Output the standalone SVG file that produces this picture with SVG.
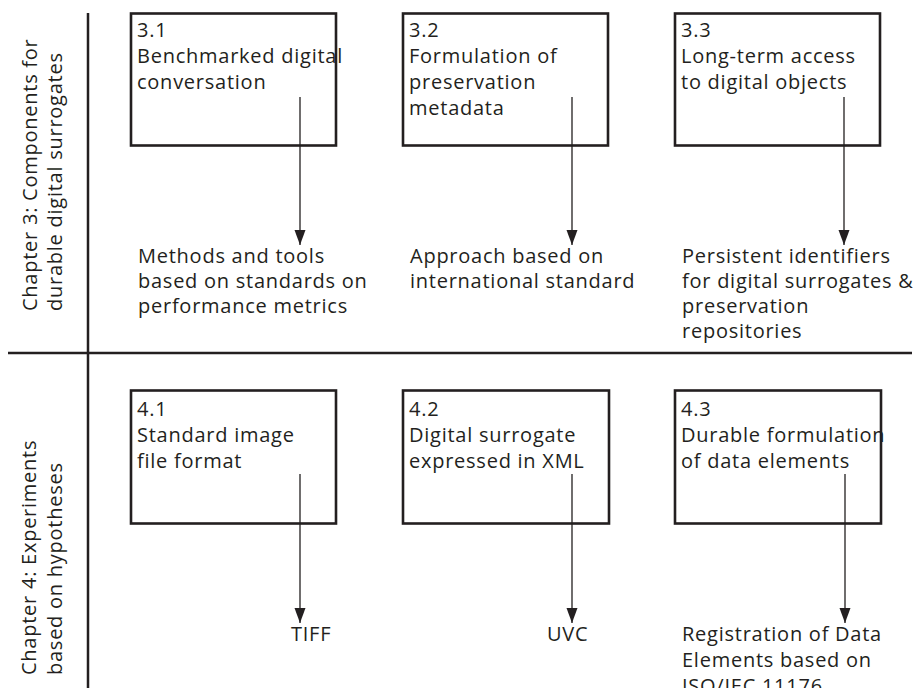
<svg xmlns="http://www.w3.org/2000/svg" width="920" height="688" viewBox="0 0 920 688">
  <style>
    .bg { fill: #ffffff; }
    .rule { stroke: #231f20; stroke-width: 2.5; fill: none; }
    .box { fill: #ffffff; stroke: #231f20; stroke-width: 2.6; }
    .arrow { stroke: #231f20; stroke-width: 1.3; fill: none; marker-end: url(#head); }
    text { font-family: "Open Sans", "Noto Sans", sans-serif; font-size: 20px; fill: #231f20; letter-spacing: 0.75px; }
  </style>
  <defs>
    <marker id="head" markerUnits="userSpaceOnUse" markerWidth="16" markerHeight="12" refX="15" refY="5.5" orient="auto">
      <path d="M0,0 L15,5.5 L0,11 z" fill="#231f20"/>
    </marker>
  </defs>

  <rect class="bg" x="0" y="0" width="920" height="688"/>

  <!-- grid rules -->
  <g id="rules">
    <line class="rule" x1="88" y1="13" x2="88" y2="688"/>
    <line class="rule" x1="8" y1="353" x2="912" y2="353"/>
  </g>

  <!-- row headings -->
  <g id="heading-ch3">
    <text transform="translate(37,311) rotate(-90)">Chapter 3: Components for</text>
    <text transform="translate(62,311) rotate(-90)">durable digital surrogates</text>
  </g>
  <g id="heading-ch4">
    <text transform="translate(36,675) rotate(-90)">Chapter 4: Experiments</text>
    <text transform="translate(62,675) rotate(-90)">based on hypotheses</text>
  </g>

  <!-- chapter 3 components -->
  <g id="node-3-1">
    <rect class="box" x="131" y="13.5" width="205" height="132"/>
    <text x="137" y="37">3.1</text>
    <text x="137" y="63">Benchmarked digital</text>
    <text x="137" y="89">conversation</text>
  </g>
  <g id="node-3-2">
    <rect class="box" x="403" y="13.5" width="205" height="132"/>
    <text x="409" y="37">3.2</text>
    <text x="409" y="63">Formulation of</text>
    <text x="409" y="89">preservation</text>
    <text x="409" y="115">metadata</text>
  </g>
  <g id="node-3-3">
    <rect class="box" x="675" y="13.5" width="205" height="132"/>
    <text x="681" y="37">3.3</text>
    <text x="681" y="63">Long-term access</text>
    <text x="681" y="89">to digital objects</text>
  </g>

  <!-- chapter 3 outcomes -->
  <g id="out-3-1">
    <text x="138" y="263">Methods and tools</text>
    <text x="138" y="288">based on standards on</text>
    <text x="138" y="313">performance metrics</text>
  </g>
  <g id="out-3-2">
    <text x="410" y="263">Approach based on</text>
    <text x="410" y="288">international standard</text>
  </g>
  <g id="out-3-3">
    <text x="682" y="263">Persistent identifiers</text>
    <text x="682" y="288">for digital surrogates &amp;</text>
    <text x="682" y="313">preservation</text>
    <text x="682" y="338">repositories</text>
  </g>

  <!-- chapter 4 experiments -->
  <g id="node-4-1">
    <rect class="box" x="131" y="390.5" width="205" height="133"/>
    <text x="137" y="416">4.1</text>
    <text x="137" y="442">Standard image</text>
    <text x="137" y="468">file format</text>
  </g>
  <g id="node-4-2">
    <rect class="box" x="403" y="390.5" width="206" height="133"/>
    <text x="409" y="416">4.2</text>
    <text x="409" y="442">Digital surrogate</text>
    <text x="409" y="468">expressed in XML</text>
  </g>
  <g id="node-4-3">
    <rect class="box" x="675" y="390.5" width="206" height="133"/>
    <text x="681" y="416">4.3</text>
    <text x="681" y="442">Durable formulation</text>
    <text x="681" y="468">of data elements</text>
  </g>

  <!-- chapter 4 outcomes -->
  <g id="out-4-1">
    <text x="291" y="641">TIFF</text>
  </g>
  <g id="out-4-2">
    <text x="547" y="641">UVC</text>
  </g>
  <g id="out-4-3">
    <text x="682" y="641">Registration of Data</text>
    <text x="682" y="667">Elements based on</text>
    <text x="682" y="693">ISO/IEC 11176</text>
  </g>

  <!-- connectors -->
  <g id="connectors">
    <line class="arrow" x1="300" y1="97" x2="300" y2="245"/>
    <line class="arrow" x1="572" y1="97" x2="572" y2="245"/>
    <line class="arrow" x1="844" y1="97" x2="844" y2="245"/>
    <line class="arrow" x1="300" y1="474" x2="300" y2="623"/>
    <line class="arrow" x1="572" y1="474" x2="572" y2="623"/>
    <line class="arrow" x1="845" y1="474" x2="845" y2="623"/>
  </g>
</svg>
